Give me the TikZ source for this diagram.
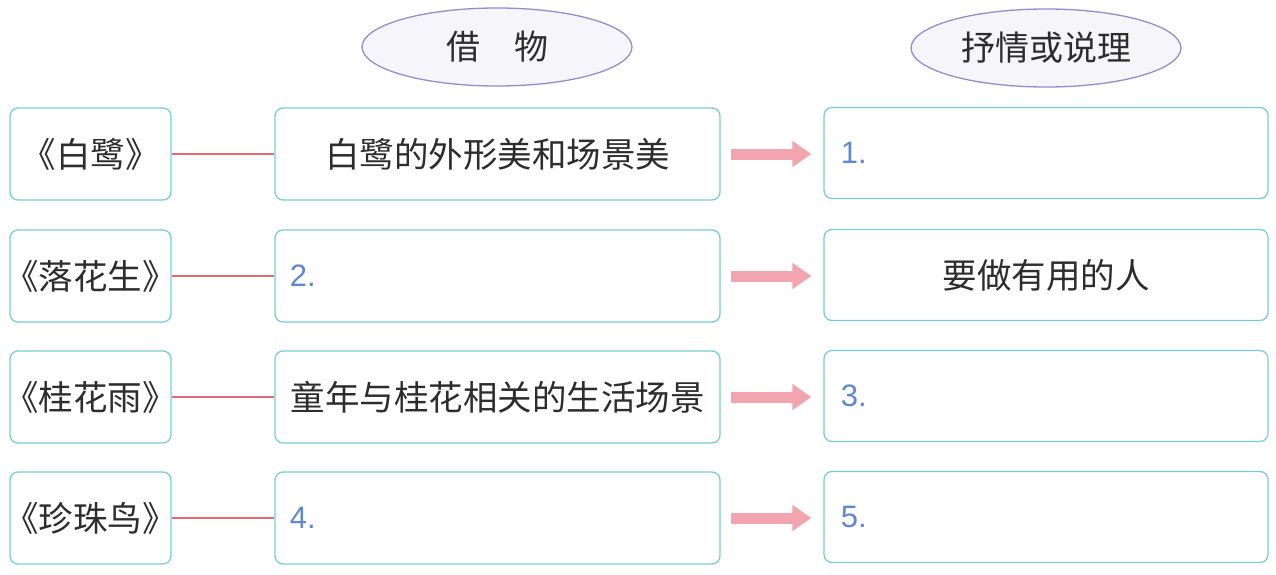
\documentclass[tikz,border=0pt]{standalone}
\usepackage{fontspec}
\setmainfont{Liberation Sans}
\newfontfamily\cjk{Noto Sans CJK SC}
\usetikzlibrary{shapes.geometric,arrows.meta}
\definecolor{boxc}{RGB}{120,205,215}
\definecolor{ellc}{RGB}{150,140,205}
\definecolor{ellf}{RGB}{246,245,250}
\definecolor{linec}{RGB}{228,105,115}
\definecolor{arrc}{RGB}{242,165,175}
\definecolor{numc}{RGB}{95,135,210}
\definecolor{txtc}{RGB}{45,45,45}
\begin{document}
\begin{tikzpicture}[x=1pt,y=-1pt,
  tbox/.style={draw=boxc, line width=1.3pt, rounded corners=8pt, fill=white, inner sep=0pt},
  hdr/.style={ellipse, draw=ellc, line width=1.3pt, fill=ellf, minimum width=270pt, minimum height=78pt, inner sep=0pt, font=\cjk\fontsize{34}{38}\selectfont, text=txtc},
  txt/.style={font=\cjk\fontsize{34.5}{38}\selectfont, text=txtc},
  num/.style={font=\fontsize{31}{34}\selectfont, text=numc, anchor=west},
  link/.style={draw=linec, line width=1.8pt},
  fat/.style={draw=arrc, line width=11pt, -{Triangle[length=19pt,width=25pt]}, shorten <=10pt, shorten >=12pt}
]
\useasboundingbox (0,0) rectangle (1276,575);
\fill[white] (0,0) rectangle (1276,575);
% headers
\node[hdr] (h1) at (497,47) {借　物};
\node[hdr] (h2) at (1046,48) {抒情或说理};
% column boxes
\foreach \i/\y in {1/154,2/276,3/397,4/518}{
  \node[tbox, minimum width=161pt, minimum height=92pt] (l\i) at (90.5,\y) {};
  \node[tbox, minimum width=445pt, minimum height=92pt] (m\i) at (497.5,\y) {};
  \node[tbox, minimum width=444pt, minimum height=91pt] (r\i) at (1046,\y-1) {};
}
% texts column 1
\node[txt] (lt1) at (l1) {《白鹭》};
\node[txt] (lt2) at (l2) {《落花生》};
\node[txt] (lt3) at (l3) {《桂花雨》};
\node[txt] (lt4) at (l4) {《珍珠鸟》};
% column 2
\node[txt] (mt1) at (m1) {白鹭的外形美和场景美};
\node[num] (mt2) at ([xshift=12pt]m2.west) {2.};
\node[txt] (mt3) at (m3) {童年与桂花相关的生活场景};
\node[num] (mt4) at ([xshift=12pt]m4.west) {4.};
% column 3
\node[num] (rt1) at ([xshift=14pt]r1.west) {1.};
\node[txt] (rt2) at (r2) {要做有用的人};
\node[num] (rt3) at ([xshift=14pt]r3.west) {3.};
\node[num] (rt5) at ([xshift=14pt]r4.west) {5.};
% connectors
\foreach \i in {1,2,3,4}{
  \draw[link] (l\i.east) -- (m\i.west);
  \draw[fat] (m\i.east) -- (m\i.east -| r\i.west);
}
\end{tikzpicture}
\end{document}
